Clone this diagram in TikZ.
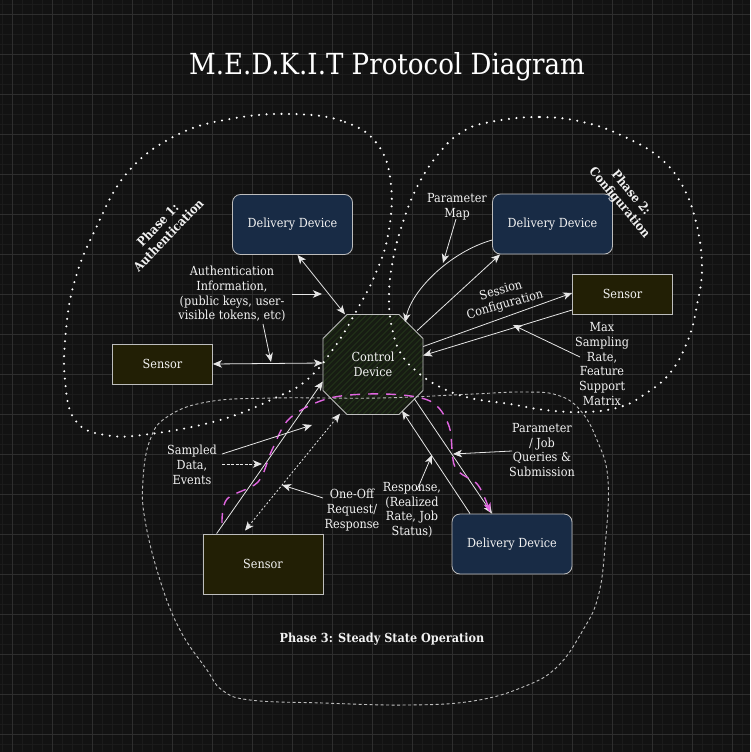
\documentclass[tikz,border=0pt]{standalone}
\usepackage{fontspec}
\setmainfont{DejaVu Serif Condensed}
\usetikzlibrary{positioning, arrows.meta, calc}

\definecolor{bgcol}{HTML}{121212}
\definecolor{gridmin}{HTML}{1B1B1B}
\definecolor{gridmaj}{HTML}{2E2E2E}
\definecolor{ddfill}{HTML}{182B45}
\definecolor{snfill}{HTML}{221F05}
\definecolor{ctrlfill}{HTML}{171C13}
\definecolor{ctrlhatch}{HTML}{28401C}
\definecolor{edgecol}{HTML}{BDBDBD}
\definecolor{linecol}{HTML}{E6E6E6}
\definecolor{txtcol}{HTML}{F2F2F2}
\definecolor{pinkcol}{HTML}{E066E0}

\begin{document}
\begin{tikzpicture}[x=1pt, y=-1pt,
  >={Stealth[length=9pt, width=7.5pt, inset=2.5pt]},
  lbl/.style={text=txtcol, align=center, inner sep=0pt,
    font=\fontsize{12.5}{14.7}\selectfont},
  phaselbl/.style={lbl, font=\fontsize{12.5}{15}\selectfont\bfseries},
  ddbox/.style={lbl, draw=edgecol, line width=0.8pt, fill=ddfill,
    rounded corners=8pt, minimum width=120pt, minimum height=60pt},
  snbox/.style={lbl, draw=edgecol, line width=0.8pt, fill=snfill,
    minimum width=100pt, minimum height=40pt},
  ctrlbox/.style={lbl, minimum width=100pt, minimum height=100pt},
  conn/.style={draw=linecol, line width=0.8pt},
  phasedots/.style={draw=white, line width=2.3pt, line cap=round,
    dash pattern=on 0pt off 7.5pt},
  phasedash/.style={draw=edgecol, line width=0.9pt, dash pattern=on 3pt off 2.5pt},
  pinkpath/.style={draw=pinkcol, line width=1.4pt, dash pattern=on 10pt off 8pt}
]
  \useasboundingbox (0,0) rectangle (750,752);
  \fill[bgcol] (0,0) rectangle (750,752);

  % Grid
  \foreach \gx in {2.5,12.5,...,750} \draw[gridmin, line width=0.5pt] (\gx,0) -- (\gx,752);
  \foreach \gy in {4.5,14.5,...,752} \draw[gridmin, line width=0.5pt] (0,\gy) -- (750,\gy);
  \foreach \gx in {12.5,52.5,...,750} \draw[gridmaj, line width=0.8pt] (\gx,0) -- (\gx,752);
  \foreach \gy in {14.5,54.5,...,752} \draw[gridmaj, line width=0.8pt] (0,\gy) -- (750,\gy);

  % Title
  \node[lbl, font=\fontsize{29}{34}\selectfont, text=white] (title) at (387,67) {M.E.D.K.I.T Protocol Diagram};

  % Devices
  \node[ddbox] (ddA) at (292.5,224.5) {Delivery Device};
  \node[ddbox] (ddB) at (552.5,224) {Delivery Device};
  \node[ddbox] (ddC) at (512,544) {Delivery Device};
  \node[snbox] (snA) at (162.5,364) {Sensor};
  \node[snbox] (snB) at (622.5,294) {Sensor};
  \node[snbox, minimum width=120pt, minimum height=60pt] (snC) at (263,564) {Sensor};

  % Control device: hatched octagon
  \coordinate (ctrlc) at (373,364.5);
  \def\ctrloct{($(ctrlc)+(-26,-50)$) -- ($(ctrlc)+(26,-50)$) -- ($(ctrlc)+(50,-26)$) -- ($(ctrlc)+(50,26)$)
    -- ($(ctrlc)+(26,50)$) -- ($(ctrlc)+(-26,50)$) -- ($(ctrlc)+(-50,26)$) -- ($(ctrlc)+(-50,-26)$) -- cycle}
  \fill[ctrlfill] \ctrloct;
  \begin{scope}
    \clip \ctrloct;
    \foreach \k in {-110,-104,...,110}
      \draw[ctrlhatch, line width=0.5pt] ($(ctrlc)+(\k-60,60)$) -- ($(ctrlc)+(\k+60,-60)$);
  \end{scope}
  \draw[edgecol, line width=0.9pt] \ctrloct;
  \node[ctrlbox] (ctrl) at (ctrlc) {Control\\Device};

  % Phase outlines
  \draw[phasedots] plot[smooth cycle, tension=0.7] coordinates {
    (293,114) (345,122) (378,145) (391,185) (388,235) (375,275) (358,308)
    (336,345) (308,379) (275,398) (220,420) (150,434) (105,435) (75,420)
    (65,380) (66,330) (75,280) (95,230) (127,173) (175,136) (230,119)};
  \draw[phasedots] plot[smooth cycle, tension=0.7] coordinates {
    (490,122) (540,117) (587,123) (627,138) (660,158) (682,185) (696,222)
    (702,267) (697,305) (688,340) (670,373) (645,394) (620,407) (585,412)
    (545,410) (510,404) (470,398) (440,387) (415,370) (400,352) (392,328)
    (389,300) (392,265) (402,225) (418,185) (440,152) (462,132)};
  \draw[phasedash] plot[smooth cycle, tension=0.7] coordinates {
    (167,417) (207,402) (273,398) (380,398) (473,394) (523,392) (557,395)
    (580,410) (597,440) (608,480) (605,547) (598,597) (583,630) (557,667)
    (523,687) (473,701) (407,705) (323,703) (250,700) (222,690) (207,670)
    (180,630) (160,580) (145,520) (143,480) (150,440)};

  % Phase labels
  \node[phaselbl, rotate=46] (ph1) at (163,230) {Phase 1:\\Authentication};
  \node[phaselbl, rotate=-50] (ph2) at (625,198) {Phase 2:\\Configuration};
  \node[phaselbl] (ph3) at (382,639) {Phase 3: Steady State Operation};

  % Phase 1 connectors
  \draw[conn, <->] ($(ddA.south)+(5,0)$) -- ($(ctrl.north)+(-28,0)$);
  \draw[conn, <->] (snA.east) -- ($(ctrl.west)+(0,-1.5)$);
  \node[lbl] (authtxt) at (232,294) {Authentication\\Information,\\(public keys, user-\\visible tokens, etc)};
  \coordinate (authA) at (322,294);
  \coordinate (authB) at (271,362);
  \draw[conn, ->] ($(authtxt)+(60,0)$) -- (authA);
  \draw[conn, ->] ($(authtxt)+(31,30)$) -- (authB);

  % Phase 2 connectors
  \draw[conn, ->] ($(ddB.west)+(0,16)$) .. controls (450,252) and (412,290) .. ($(ctrl.north)+(32,8)$);
  \draw[conn, ->] ($(ctrl.east)+(-6,-34)$) -- ($(ddB.south west)+(8,0)$);
  \draw[conn, ->] ($(ctrl.east)+(0,-18)$) -- ($(snB.west)+(0,-1)$);
  \draw[conn, ->] ($(snB.west)+(0,16)$) -- ($(ctrl.east)+(0,-9)$);
  \node[lbl] (maptxt) at (457,207) {Parameter\\Map};
  \node[lbl, rotate=16] (sesstxt) at (503,298) {Session\\Configuration};
  \node[lbl] (maxtxt) at (602,364) {Max\\Sampling\\Rate,\\Feature\\Support\\Matrix};
  \coordinate (mapA) at (443,263);
  \coordinate (maxA) at (513,325);
  \draw[conn, ->] ($(maptxt)+(-1,12)$) -- (mapA);
  \draw[conn, ->] ($(maxtxt)+(-22,-7)$) -- (maxA);

  % Phase 3 connectors
  \draw[conn, ->] ($(snC.north west)+(14,0)$) -- ($(ctrl.west)+(0,17)$);
  \draw[conn, <->, dash pattern=on 2pt off 2pt] ($(snC.north)+(-18,-3)$) -- ($(ctrl.south)+(-33,-1)$);
  \draw[conn, ->] ($(ctrl.east)+(-9,34)$) -- ($(ddC.north)+(-20,0)$);
  \draw[conn, ->] ($(ddC.north)+(-42,0)$) -- ($(ctrl.south)+(29,-4)$);
  \draw[pinkpath, ->] plot[smooth, tension=0.55] coordinates {
    (222,523) (227,499) (258,482) (272,450) (290,418) (330,398) (385,394)
    (430,401) (449,426) (455,467) (478,485) (490,512)};
  \node[lbl] (samptxt) at (192,465) {Sampled\\Data,\\Events};
  \node[lbl] (onetxt) at (352,510) {One-Off\\Request/\\Response};
  \node[lbl] (paramtxt) at (542,450) {Parameter\\/ Job\\Queries \&\\Submission};
  \node[lbl] (resptxt) at (412,510) {Response,\\(Realized\\Rate, Job\\Status)};
  \coordinate (sampA) at (312,425);
  \coordinate (sampB) at (262,464);
  \coordinate (oneA) at (282,485);
  \coordinate (paramA) at (453,454);
  \coordinate (respA) at (432,455);
  \draw[conn, ->] ($(samptxt)+(30,-11)$) -- (sampA);
  \draw[conn, ->, dash pattern=on 3pt off 1.5pt] ($(samptxt)+(30,-1)$) -- (sampB);
  \draw[conn, ->] ($(onetxt)+(-29,-12)$) -- (oneA);
  \draw[conn, ->] ($(paramtxt)+(-30,1)$) -- (paramA);
  \draw[conn, ->] ($(resptxt)+(5,-20)$) -- (respA);
\end{tikzpicture}
\end{document}
